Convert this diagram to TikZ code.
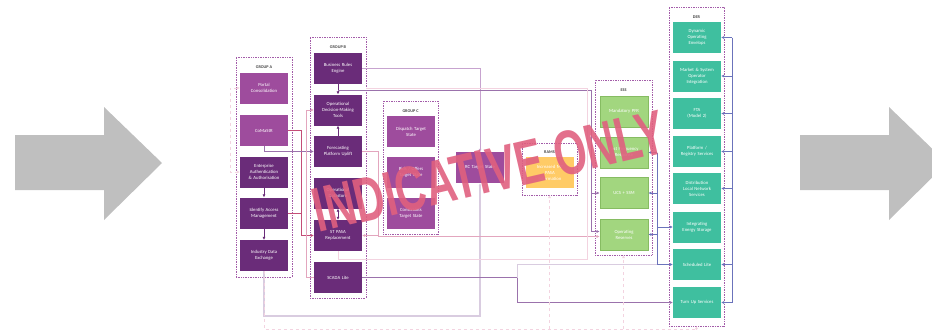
\documentclass[tikz,border=0pt]{standalone}
\usepackage{fontspec}
\setmainfont{Carlito}
\newfontfamily\wmfont{Liberation Sans}
\usepackage{tikz}
\usetikzlibrary{arrows.meta,positioning,calc}

\definecolor{grpdark}{HTML}{6A2C79}
\definecolor{grplight}{HTML}{9E4C9D}
\definecolor{essgreen}{HTML}{A2D67F}
\definecolor{essedge}{HTML}{86BC62}
\definecolor{derteal}{HTML}{3FBF9F}
\definecolor{ramsyellow}{HTML}{FFCB66}
\definecolor{framepurple}{HTML}{A35CA9}
\definecolor{lnpurple}{HTML}{9B72AC}
\definecolor{lnlilac}{HTML}{C7A3CF}
\definecolor{lngrey}{HTML}{D9CCE0}
\definecolor{lnpink}{HTML}{E3A6BE}
\definecolor{lnpale}{HTML}{F3D3E0}
\definecolor{lnred}{HTML}{C44D77}
\definecolor{lnblue}{HTML}{6B73BB}
\definecolor{bigarrow}{HTML}{BFBFBF}
\definecolor{stamp}{HTML}{E0607F}

\tikzset{
  box/.style={minimum width=48pt,minimum height=31pt,inner sep=1pt,text width=44pt,align=center,text=white,font=\fontsize{4.7}{5.9}\selectfont},
  darkbox/.style={box,fill=grpdark},
  lightbox/.style={box,fill=grplight},
  essbox/.style={box,fill=essgreen,draw=essedge,line width=0.6pt},
  derbox/.style={box,fill=derteal},
  ramsbox/.style={box,fill=ramsyellow},
  grpframe/.style={draw=framepurple,densely dotted,line width=0.7pt,inner sep=0pt,outer sep=0pt},
  grplabel/.style={font=\bfseries\fontsize{4.2}{5}\selectfont,text=black!75},
  tip/.style={-{Latex[length=3pt,width=3pt]}},
  bothtips/.style={{Latex[length=3pt,width=3pt]}-{Latex[length=3pt,width=3pt]}},
  thin line/.style={line width=0.6pt},
  pinkdash/.style={draw=lnpale,dashed,line width=0.6pt}
}

\begin{document}
\begin{tikzpicture}[x=1pt,y=-1pt]
\useasboundingbox (0,0) rectangle (932,335);
\clip (0,0) rectangle (932,335);

\fill[bigarrow] (15,135) -- (104,135) -- (104,107) -- (162,163) -- (104,220) -- (104,190) -- (15,190) -- cycle;
\fill[bigarrow] (800,135) -- (889,135) -- (889,107) -- (947,163) -- (889,220) -- (889,190) -- (800,190) -- cycle;

\node[grpframe,minimum width=56pt,minimum height=220pt] (grpA) at (264,167) {};
\node[grpframe,minimum width=56pt,minimum height=261pt] (grpB) at (338,167.5) {};
\node[grpframe,minimum width=55pt,minimum height=133pt] (grpC) at (410.5,167.5) {};
\node[grpframe,minimum width=55pt,minimum height=52pt] (ramsF) at (549.5,169) {};
\node[grpframe,minimum width=57pt,minimum height=175pt] (essF) at (623.5,167.5) {};
\node[grpframe,minimum width=55pt,minimum height=319pt] (derF) at (696.5,166.5) {};

\node[grplabel,below=5pt of grpA.north] {GROUP A};
\node[grplabel,below=5pt of grpB.north] {GROUP B};
\node[grplabel,below=5pt of grpC.north] {GROUP C};
\node[grplabel,below=4pt of ramsF.north] {RAMS};
\node[grplabel,below=5pt of essF.north] {ESS};
\node[grplabel,below=5pt of derF.north] {DER};

\node[lightbox] (portal) at (264,88) {Portal\\Consolidation};
\node[lightbox] (comastr) at (264,130.5) {CoMaStR};
\node[darkbox] (enterprise) at (264,172) {Enterprise\\Authentication\\\& Authorisation};
\node[darkbox] (identify) at (264,213) {Identify Access\\Management};
\node[darkbox] (idx) at (264,255.5) {Industry Data\\Exchange};

\node[darkbox] (bre) at (338,68) {Business Rules\\Engine};
\node[darkbox] (odmt) at (338,110) {Operational\\Decision-Making\\Tools};
\node[darkbox] (fpu) at (338,151.5) {Forecasting\\Platform Uplift};
\node[darkbox] (ods) at (338,193) {Operational\\Datastore};
\node[darkbox] (stpasa) at (338,235.5) {ST PASA\\Replacement};
\node[darkbox] (scada) at (338,277.5) {SCADA Lite};

\node[lightbox] (dts) at (411,131.5) {Dispatch Target\\State};
\node[lightbox] (bots) at (411,172.5) {Bids / Offers\\Target State};
\node[lightbox] (cts) at (411,213.5) {Constraints\\Target State};
\node[lightbox] (rc) at (480,167.5) {RC Target State};

\node[ramsbox] (rams) at (550,172.5) {Increased MT\\PASA\\Information};

\node[essbox] (pfr) at (624,111.5) {Mandatory PFR};
\node[essbox] (ffr) at (624,152.5) {Fast Frequency\\Response};
\node[essbox] (ucs) at (624,193) {UCS + SSM};
\node[essbox] (opr) at (624,234.5) {Operating\\Reserves};

\node[derbox] (doe) at (697,37.5) {Dynamic\\Operating\\Envelops};
\node[derbox] (msoi) at (697,76) {Market \& System\\Operator\\Integration};
\node[derbox] (fta) at (697,113.5) {FTA\\(Model 2)};
\node[derbox] (prs) at (697,151.5) {Platform /\\Registry Services};
\node[derbox] (dlns) at (697,188.5) {Distribution\\Local Network\\Services};
\node[derbox] (ies) at (697,227) {Integrating\\Energy Storage};
\node[derbox] (sl) at (697,264.5) {Scheduled Lite};
\node[derbox] (tus) at (697,302.5) {Turn Up Services};

\coordinate (odmttop) at (338,90);
\coordinate (botline) at (0,329);
\coordinate (derbus) at (732,0);
\coordinate (essbus) at (657,0);

\draw[grpdark,thin line,tip] (enterprise) -- (identify);
\draw[grpdark,thin line,tip] (identify) -- (idx);
\draw[grpdark,thin line,tip] (bre) -- (odmt);
\draw[grpdark,thin line,tip] (fpu) -- (odmt);
\draw[grpdark,thin line,bothtips] (ods) -- (stpasa);
\draw[pinkdash,bothtips] (portal.west) -- ++(-10,0) |- (enterprise.west);

\draw[lnred,thin line,tip] (comastr.east) -- (301,130.5) |- (stpasa.west);
\draw[lnred,thin line] (identify.east) -- (301,213);
\draw[lnpurple,thin line,tip] (comastr.south) |- (fpu.west);
\draw[lnpink,thin line,tip] (scada.west) -- (306,277.5) |- (odmt.west);

\draw[lnlilac,thin line,tip] (bre.east) -| (rc.north);
\draw[lngrey,line width=1.5pt,tip] (idx.south) -- (264,316) -| (rc.south);

\draw[lnpurple,thin line,tip] (odmttop) -- (591,90) |- ([yshift=3pt]opr.west);
\draw[lnpurple,thin line,tip] (591,193) -- (ucs.west);
\draw[lnpink,thin line,tip] (fpu.east) -- (378,151.5) |- ([yshift=-2pt]opr.west);
\draw[lnpink,thin line,tip] (378,235.5) -- (stpasa.east);
\draw[lnpale,thin line] (stpasa.south) |- (587,259) -- (587,88) -- (366,88);

\draw[lnpurple,thin line,tip] (scada.east) -- (517,277.5) |- (tus.west);
\draw[lngrey,line width=1pt] (517,277.5) |- (sl.west -| essbus);

\draw[lnblue,thin line] (doe.east -| derbus) -- (tus.east -| derbus);
\foreach \b in {doe,msoi,fta,prs,dlns,sl,tus}
  \draw[lnblue,thin line,tip] (\b.east -| derbus) -- (\b.east);
\draw[lnblue,thin line] (ffr.east -| essbus) -- (sl.west -| essbus);
\foreach \e in {ffr,ucs,opr}
  \draw[lnblue,thin line,tip] (\e.east -| essbus) -- (\e.east);
\draw[lnblue,thin line,tip] (ies.west -| essbus) -- (ies.west);
\draw[lnblue,thin line,tip] (sl.west -| essbus) -- (sl.west);

\draw[pinkdash] (idx.south) -- (idx.south |- botline) -- (derF.south |- botline);
\draw[pinkdash,tip] (ramsF.south |- botline) -- (ramsF.south);
\draw[pinkdash,tip] (essF.south |- botline) -- (essF.south);
\draw[pinkdash,tip] (derF.south |- botline) -- (derF.south);

\node[text=stamp,opacity=0.9,font=\wmfont\bfseries\fontsize{42}{42}\selectfont,rotate=13,yscale=1.5] (stampnote) at (489,171) {INDICATIVE ONLY};
\end{tikzpicture}
\end{document}
